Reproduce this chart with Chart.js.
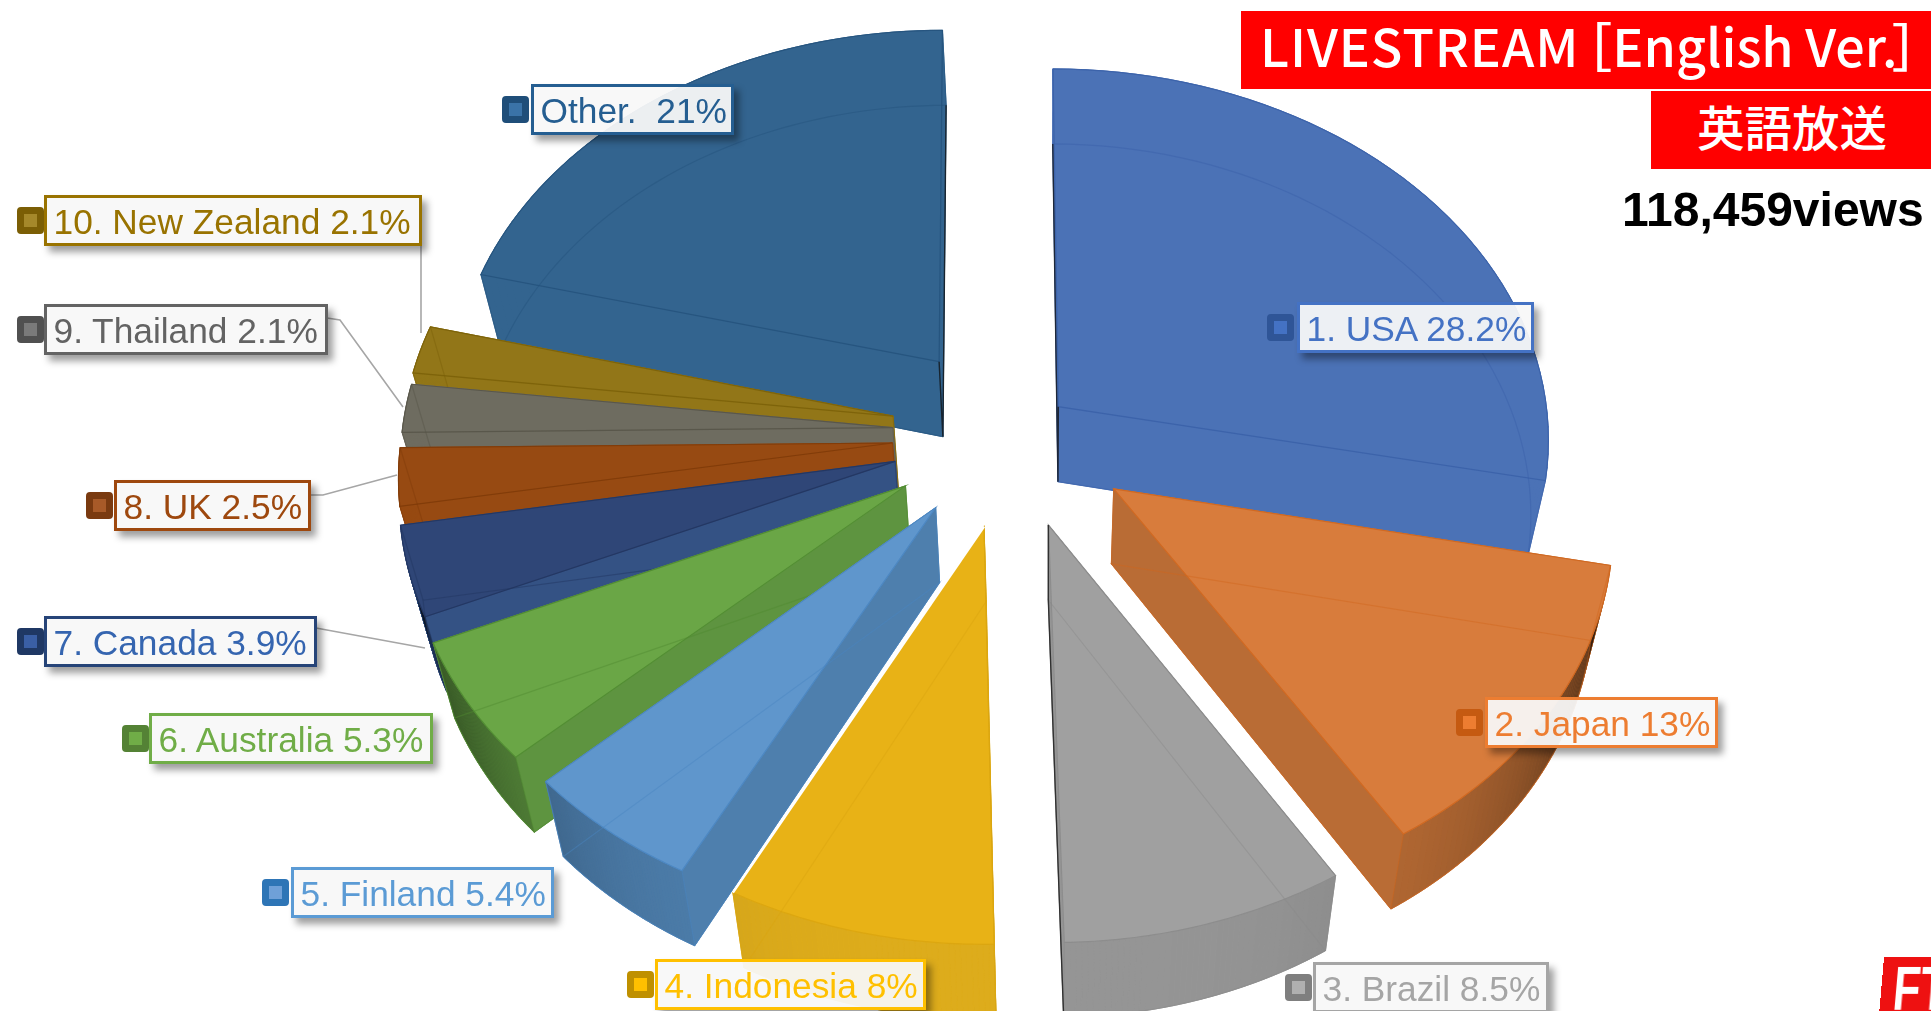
<!DOCTYPE html>
<html><head><meta charset="utf-8">
<script src="https://cdn.jsdelivr.net/npm/chart.js@4"></script>
<style>
html,body{margin:0;padding:0;background:#fff;width:1931px;height:1011px;overflow:hidden}
#wrap{position:absolute;left:0;top:0;width:1931px;height:1011px}
.lab{position:absolute;box-sizing:border-box;height:51px;padding:0 6.5px;border:3px solid;background:rgba(248,248,248,.94);box-shadow:5px 6px 7px rgba(0,0,0,.38);font:35.3px/47px "Liberation Sans",Arial,sans-serif;white-space:pre}
.mk{position:absolute;box-sizing:border-box;width:27px;height:27px;border:7px solid;border-radius:4px}
.red{position:absolute;background:#ff0000;color:#fff;font-family:"Noto Sans CJK JP",sans-serif;white-space:pre}
#t1{left:1241px;top:11px;width:690px;height:78px;line-height:68px;font-size:52px;font-weight:500;padding-left:19px;box-sizing:border-box}
#t1 .a{letter-spacing:.9px}
#t1 .b{margin-left:-19px}
#t1 .c{margin-left:-6px}
#t2{left:1651px;top:91px;width:280px;height:78px;line-height:70px;font-size:47.5px;font-weight:500;padding-left:46px;box-sizing:border-box}
#views{position:absolute;left:1622px;top:186px;font:bold 48px/48px "Liberation Sans",Arial,sans-serif;color:#000;white-space:pre}
#logo{position:absolute;left:1881px;top:957px;width:80px;height:70px;background:#ee1111;transform:skewX(-5deg);color:#fff;font:bold 62px/64px "Liberation Sans",Arial,sans-serif;padding-left:12px;box-sizing:border-box;overflow:hidden}
#logo span{display:inline-block;transform:scaleX(.72);transform-origin:left center}
</style></head><body>
<div id="wrap"><canvas id="c"></canvas></div>
<div class="red" id="t1"><span class="a">LIVESTREAM</span><span class="b">［English Ver.</span><span class="c">］</span></div>
<div class="red" id="t2">英語放送</div>
<div id="views">118,459views</div>
<div id="logo"><span>FT</span></div>
<script>
const categories = ["1. USA","2. Japan","3. Brazil","4. Indonesia","5. Finland","6. Australia","7. Canada","8. UK","9. Thailand","10. New Zealand","Other. "];
const shares = [28.2,13,8.5,8,5.4,5.3,3.9,2.5,2.1,2.1,21];

// styling
const topColors  = ["#4B72B6","#D87C3C","#A0A0A0","#E8B216","#5F96CC","#6AA646","#2F4677","#974A12","#6E6C60","#927618","#33648F"];
const wallColors = ["#4B72B6","#B96C35","#959595","#DDAC1C","#4E7FAD","#5E9440","#345284","#974A12","#6E6C60","#927618","#33648F"];
const edgeColors = ["#3A60A8","#D0661D","#8A8A8A","#D9A40F","#4A86C2","#4F8A30","#22355F","#7E3A08","#565448","#7A6008","#24527C"];
const darkEdge   = [1,0,1,0,0,0,0,0,0,0,1];
const explodeX   = [76,131,64,-1,-50,-81,-92,-95,-95,-95,-48];
const explodeY   = [-50,62,110,112,87,58,25,0,-21,-37,-113];
const textColors = ["#4472C4","#ED7D31","#A5A5A5","#FFC000","#5B9BD5","#70AD47","#3565B0","#9E480E","#636363","#997300","#255E91"];
const boxColors  = ["#4472C4","#ED7D31","#A5A5A5","#FFC000","#5B9BD5","#70AD47","#264478","#9E480E","#636363","#997300","#255E91"];
const markOuter  = ["#2F5597","#C55A11","#7F7F7F","#BF9000","#2E75B6","#548235","#1F3864","#7A3A10","#505050","#7B5E05","#1F4E79"];
const markInner  = ["#4472C4","#ED7D31","#B0B0B0","#FFC000","#6FA0D8","#70AD47","#3A5FA5","#A85A28","#7A7A7A","#A5882A","#3A73A8"];
const labelLeft  = [1297,1485,1313,655,291,149,44,114,44,44,531];
const labelTop   = [302,697,962,959,867,713,616,480,304,195,84];
const labelWidth = [237,233,236,271,263,284,273,197,284,378,203];
const markLeft   = [1267,1456,1285,627,262,122,17,86,17,17,502];
const leaderLines = [[421,246,421,333],[327,318,340,320,403,407],[311,495,323,495,397,475],[316,628,425,648]];

const PIE = {cx:985, cy:443, ax:0.973, by:0.7325, persp:0.08, depth:75, vx:1047, shrink:0.965};

const pie3d = {
  id:'pie3d',
  beforeDatasetsDraw(chart){
    const ctx = chart.ctx, meta = chart.getDatasetMeta(0);
    ctx.save();
    ctx.strokeStyle = '#A6A6A6'; ctx.lineWidth = 1.6;
    leaderLines.forEach(l=>{ctx.beginPath();ctx.moveTo(l[0],l[1]);for(let k=2;k<l.length;k+=2)ctx.lineTo(l[k],l[k+1]);ctx.stroke();});
    const depthKey = i=>{const a=meta.data[i];let m=((a.startAngle+a.endAngle)/2+Math.PI/2)*180/Math.PI;return Math.abs(m-180);};
    const order = shares.map((_,i)=>i).sort((p,q)=>depthKey(q)-depthKey(p));
    order.forEach(i=>{
      const arc = meta.data[i], R = arc.outerRadius;
      const proj = (u,v,low)=>{
        const s = 1/(1-PIE.persp*v/R);
        let X = PIE.cx+PIE.ax*u*s, Y = PIE.cy+PIE.by*v*s;
        if(low){X = PIE.vx+(X-PIE.vx)*PIE.shrink; Y += PIE.depth;}
        return [X,Y];
      };
      const u0 = explodeX[i], v0 = explodeY[i], N = 48, tp=[], bt=[], ang=[];
      for(let k=0;k<=N;k++){
        const a = arc.startAngle+(arc.endAngle-arc.startAngle)*k/N;
        ang.push(a);
        tp.push(proj(u0+R*Math.cos(a),v0+R*Math.sin(a),false));
        bt.push(proj(u0+R*Math.cos(a),v0+R*Math.sin(a),true));
      }
      const A = proj(u0,v0,false), B = proj(u0,v0,true);
      const poly = (pts,close=true)=>{ctx.beginPath();pts.forEach((p,k)=>k?ctx.lineTo(p[0],p[1]):ctx.moveTo(p[0],p[1]));if(close)ctx.closePath();};
      const wall = wallColors[i], top = arc.options.backgroundColor, edge = arc.options.borderColor;
      ctx.globalAlpha = 1; ctx.lineWidth = 0.8; ctx.fillStyle = wall; ctx.strokeStyle = wall;
      const fillS = pts=>{poly(pts);ctx.fill();ctx.stroke();};
      fillS([B,...bt]);
      fillS([A,tp[0],bt[0],B]);
      fillS([A,tp[N],bt[N],B]);
      for(let k=0;k<N;k++){
        const q=[tp[k],tp[k+1],bt[k+1],bt[k]];
        fillS(q);
      }
      if(wall!==top){
        for(let k=0;k<N;k++){
          const sn=Math.abs(Math.cos(ang[k]));
          if(Math.sin(ang[k])<0) continue;
          const al=0.62*Math.pow(sn,4);
          const q=[tp[k],tp[k+1],bt[k+1],bt[k]];
          ctx.fillStyle='rgba(0,0,0,'+al.toFixed(3)+')';ctx.strokeStyle=ctx.fillStyle;
          poly(q);ctx.fill();
        }
      }
      ctx.fillStyle = top; ctx.strokeStyle = top;
      poly([A,...tp]); ctx.fill(); ctx.stroke();
      // hidden and visible edges
      ctx.strokeStyle = edge; ctx.lineWidth = 1.2;
      ctx.globalAlpha = 0.45; poly([B,...bt]); ctx.stroke();
      poly([A,B],false); ctx.stroke();
      poly([tp[0],bt[0]],false); ctx.stroke();
      poly([tp[N],bt[N]],false); ctx.stroke();
      ctx.globalAlpha = 0.85; poly([A,...tp]); ctx.stroke();
      ctx.globalAlpha = 1;
      if(darkEdge[i]){
        ctx.strokeStyle='#111'; ctx.lineWidth=1.4; ctx.globalAlpha=.75;
        const near0 = Math.abs(Math.cos(arc.startAngle))<Math.abs(Math.cos(arc.endAngle));
        const e = near0?0:N;
        poly([A,B,bt[e]],false); ctx.stroke();
        ctx.globalAlpha=1;
      }
      if(categories[i].includes('Indonesia')){
        ctx.strokeStyle='#fff'; ctx.lineWidth=2.4;
        poly([A,tp[N]],false); ctx.stroke();
      }
    });
    ctx.restore();
    return false;
  }
};

new Chart(document.getElementById('c'),{
  type:'pie',
  data:{labels:categories,datasets:[{data:shares,backgroundColor:topColors,borderColor:edgeColors,borderWidth:0}]},
  options:{responsive:true,maintainAspectRatio:false,animation:false,layout:{padding:0},
    plugins:{legend:{display:false},tooltip:{enabled:false}}},
  plugins:[pie3d]
});

categories.forEach((n,i)=>{
  const d=document.createElement('div');d.className='lab';
  d.textContent=n+' '+shares[i]+'%';
  d.style.cssText+=`left:${labelLeft[i]}px;top:${labelTop[i]}px;width:${labelWidth[i]}px;color:${textColors[i]};border-color:${boxColors[i]}`;
  document.body.appendChild(d);
  const m=document.createElement('div');m.className='mk';
  m.style.cssText+=`left:${markLeft[i]}px;top:${labelTop[i]+12}px;border-color:${markOuter[i]};background:${markInner[i]}`;
  document.body.appendChild(m);
});
</script>
</body></html>
